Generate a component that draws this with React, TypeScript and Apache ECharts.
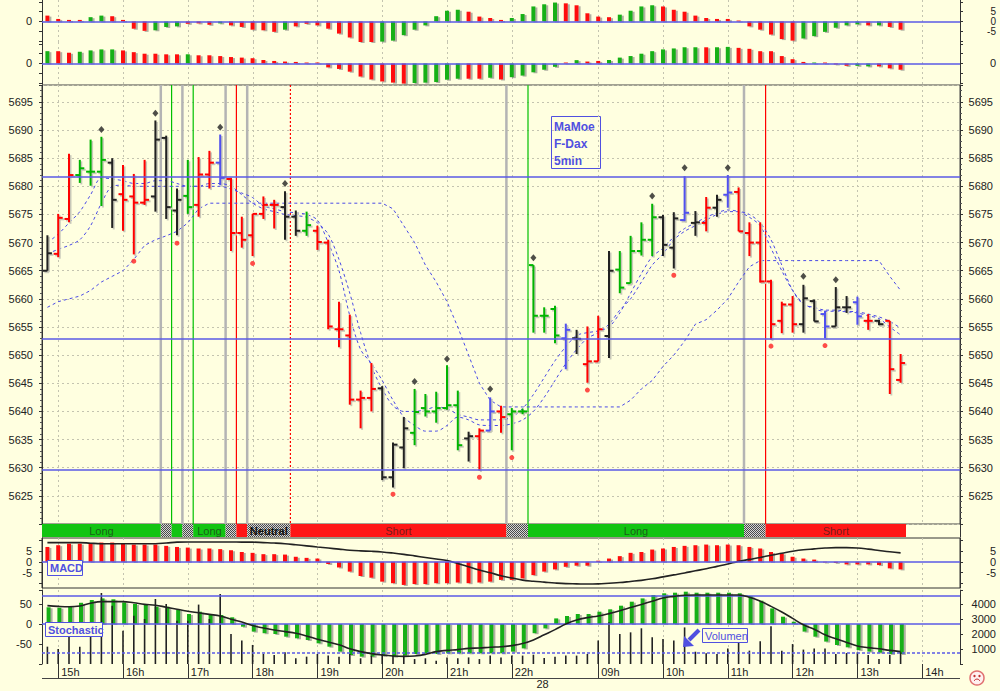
import React, { useEffect, useRef } from 'react';
import * as echarts from 'echarts';

const FONT = '"Liberation Sans", Arial, sans-serif';
const BG = '#ffffe0';
const BLUE = '#5a5ae6';

const TIMES = [
  '14:50',
  '15:00','15:10','15:20','15:30','15:40','15:50',
  '16:00','16:10','16:20','16:30','16:40','16:50',
  '17:00','17:10','17:20','17:30','17:40','17:50',
  '18:00','18:10','18:20','18:30','18:40','18:50',
  '19:00','19:10','19:20','19:30','19:40','19:50',
  '20:00','20:10','20:20','20:30','20:40','20:50',
  '21:00','21:10','21:20','21:30','21:40','21:50',
  '22:00','22:10',
  '08:00','08:10','08:20','08:30','08:40','08:50',
  '09:00','09:10','09:20','09:30','09:40','09:50',
  '10:00','10:10','10:20','10:30','10:40','10:50',
  '11:00','11:10','11:20','11:30','11:40','11:50',
  '12:00','12:10','12:20','12:30','12:40','12:50',
  '13:00','13:10','13:20','13:30','13:40','13:50',
  '14:00','14:10','14:20','14:30',
];
const TICK_TEXT = {
  '15:00': '15h', '16:00': '16h', '17:00': '17h', '18:00': '18h', '19:00': '19h',
  '20:00': '20h', '21:00': '21h', '22:00': '22h', '08:00': '\n28', '09:00': '09h',
  '10:00': '10h', '11:00': '11h', '12:00': '12h', '13:00': '13h', '14:00': '14h',
};

const OPEN = [
  5665, 5668, 5674.2, 5682, 5682.6, 5682.6, 5684.2, 5678.6, 5678.2, 5677.1,
  5678.2, 5688.6, 5675.7, 5678.3, 5676.7, 5682.1, 5684.2, 5681.3, 5671.7, 5671.3,
  5675.1, 5676.7, 5676.3, 5674.6, 5672.1, 5672.1, 5670, 5654.6, 5653.5, 5642.1,
  5642.4, 5644.1, 5628.3, 5633.6, 5636.2, 5640.6, 5640, 5640.6, 5641.1, 5635.2,
  5635.6, 5636.6, 5640, 5639.5, 5640, 5666, 5657, 5658.2, 5653, 5653,
  5648.4, 5648.9, 5653.4, 5665.2, 5662.8, 5668.5, 5670.5, 5674.5, 5669.1, 5674,
  5673.5, 5673.5, 5676.2, 5678.5, 5679, 5671.7, 5670, 5663.1, 5656.1, 5659,
  5655.5, 5659.6, 5657.3, 5655.1, 5658.5, 5659.4, 5656.1, 5656.1, 5656.1, 5645.6,
];
const HIGH = [
  5671.3, 5675.1, 5685.8, 5684.7, 5688.3, 5688.8, 5685, 5683.8, 5682.2, 5684.7,
  5691.7, 5689, 5679.6, 5684.7, 5685.2, 5686.3, 5689.2, 5681.5, 5674.6, 5675.1,
  5678.2, 5677.6, 5679.1, 5675.7, 5675.5, 5673, 5670.5, 5659.5, 5657.2, 5643.7,
  5648.6, 5644.5, 5634.5, 5639, 5644, 5643.1, 5643.5, 5648.2, 5643.7, 5636.4,
  5637, 5642.5, 5641, 5640.6, 5640.5, 5666, 5658.5, 5658.8, 5655.6, 5654.5,
  5655.1, 5657, 5668.5, 5668.5, 5671.2, 5673.6, 5676.9, 5674.9, 5675.4, 5681.8,
  5675.6, 5678.1, 5678.5, 5682, 5679.8, 5673.6, 5673.6, 5663.4, 5659.5, 5660.5,
  5662.5, 5659.9, 5657.9, 5662.1, 5660.5, 5660.4, 5657.3, 5656.3, 5656.1, 5650.2,
];
const LOW = [
  5665, 5667.4, 5673.6, 5680.6, 5680.1, 5676.5, 5672.6, 5672.1, 5667.9, 5676.7,
  5675.5, 5674.2, 5671.3, 5675.1, 5674.6, 5679.6, 5680.2, 5668.5, 5669.1, 5667.6,
  5674.2, 5672.5, 5670.5, 5671.2, 5671.2, 5668.7, 5654.6, 5651.4, 5641.2, 5637,
  5640, 5627.8, 5626.5, 5629.9, 5634, 5639.1, 5638, 5640.3, 5633.1, 5631.1,
  5629.5, 5636.6, 5636.2, 5633.1, 5639.5, 5654, 5654, 5652.1, 5647.5, 5650.2,
  5645.1, 5648.9, 5649.5, 5661, 5662.8, 5667.7, 5667.6, 5667.6, 5665.4, 5673.8,
  5671.2, 5672, 5674.6, 5676.2, 5672, 5667.6, 5662.9, 5652.8, 5653.9, 5654,
  5654, 5656, 5653, 5655.1, 5657.5, 5655.4, 5654.5, 5655.3, 5643.1, 5645.1,
];
const CLOSE = [
  5668.1, 5674.4, 5682, 5683.2, 5682.6, 5684.7, 5677.6, 5677.6, 5677.1, 5677.6,
  5688.3, 5676.3, 5677.6, 5676.3, 5682.1, 5684.2, 5681.5, 5671.7, 5670.5, 5675.1,
  5676.7, 5676.7, 5674.6, 5672.1, 5673.1, 5670.1, 5655.1, 5654.6, 5642.1, 5642.4,
  5644, 5628.3, 5634.1, 5637, 5639.9, 5640, 5640.6, 5641.1, 5634, 5635.6,
  5636.6, 5640, 5639, 5640, 5640, 5657, 5657, 5653.5, 5654.5, 5652.9,
  5648.9, 5654.6, 5665, 5662, 5668.5, 5670.5, 5674.5, 5669.6, 5674.3, 5675.3,
  5673.6, 5676.2, 5677.6, 5678.9, 5672, 5670, 5663.1, 5655.5, 5659, 5655.5,
  5660.1, 5656, 5655.1, 5658.5, 5658.5, 5656.9, 5656.1, 5655.5, 5647.5, 5648.6,
];
const BAR_COLOR = [
  'k','r','r','g','g','g','k','r','r','r',
  'k','k','k','g','r','r','b','r','r','r',
  'r','r','k','k','g','r','r','r','r','r',
  'r','k','k','k','g','g','g','g','g','k',
  'r','b','r','g','g','g','g','g','b','k',
  'r','r','k','g','g','g','g','k','k','b',
  'k','r','k','b','r','r','r','r','r','r',
  'k','k','b','k','k','b','r','k','r','r',
];

const MA_FAST = [
  5670, 5671.5, 5673.5, 5675.5, 5678.5, 5681.5, 5681.3, 5681, 5680.5, 5680.5,
  5681, 5681, 5680.5, 5680, 5680, 5680.5, 5680.5, 5680, 5678.5, 5677,
  5676, 5675.5, 5675, 5674.8, 5674.5, 5673.5, 5671.5, 5667, 5661, 5654,
  5648, 5644, 5641, 5640, 5640, 5640.3, 5640.8, 5640.5, 5639.5, 5639,
  5638.5, 5638.5, 5638.5, 5639, 5640.5, 5643, 5646, 5649, 5651.5, 5653.5,
  5654, 5654.3, 5655, 5657.5, 5661, 5664.5, 5667.5, 5669, 5671, 5672.5,
  5673.5, 5674.5, 5675.3, 5675.8, 5675.5, 5674.5, 5673, 5669, 5665, 5661.5,
  5659.2, 5658.2, 5657.8, 5657.8, 5657.7, 5657.5, 5657, 5656.5, 5655, 5653.6,
];
const MA_MID = [
  5668, 5668.8, 5669.5, 5670.5, 5673, 5677, 5680, 5680.2, 5680, 5680,
  5680, 5680, 5680, 5680, 5680, 5680, 5680, 5679.5, 5678.8, 5678,
  5676.5, 5676, 5675.5, 5675.3, 5675, 5674, 5670, 5665, 5657, 5651,
  5648.5, 5645.5, 5642, 5639, 5637.5, 5636.5, 5636.5, 5637.5, 5639, 5638.5,
  5637.6, 5637.5, 5637.5, 5637.8, 5638.5, 5640, 5642.5, 5645.5, 5648.5, 5651,
  5653, 5654, 5655.5, 5658, 5660, 5663, 5666, 5668, 5670.5, 5672,
  5673, 5674, 5675, 5675.5, 5675.5, 5675, 5673.5, 5670.5, 5666, 5661.5,
  5659, 5658.5, 5658, 5658, 5657.8, 5657.7, 5657.3, 5656.8, 5656, 5654.8,
];
const MA_SLOW = [
  5658.5, 5659.5, 5660, 5660.5, 5661.5, 5663, 5664, 5665, 5667, 5669.5,
  5670.5, 5671.2, 5672, 5673.5, 5676, 5677, 5677, 5677, 5677, 5677,
  5677, 5677, 5677, 5677, 5677, 5677, 5677, 5677, 5677, 5677,
  5677, 5677, 5676, 5673, 5670, 5666, 5663, 5659.5, 5655, 5650,
  5645, 5642, 5640.8, 5640.8, 5640.8, 5640.8, 5640.8, 5640.8, 5640.8, 5640.8,
  5640.8, 5640.8, 5640.8, 5640.8, 5642, 5644, 5645.5, 5648, 5650, 5652.5,
  5655.5, 5656.3, 5658, 5660, 5663, 5665.7, 5666.8, 5666.8, 5666.8, 5666.8,
  5666.8, 5666.8, 5666.8, 5666.8, 5666.8, 5666.8, 5666.8, 5666.8, 5664, 5661.5,
];
const LEVELS = [5681.7, 5652.9, 5629.7];

const PIVOT_HIGH_IDX = [5, 10, 16, 22, 34, 37, 41, 45, 56, 59, 63, 70, 73];
const PIVOT_HIGH_VAL = [5690.1, 5693, 5690.5, 5680.5, 5645.3, 5649.3, 5644, 5667.3, 5678.3, 5683.3, 5683.3, 5664, 5663.4];
const PIVOT_LOW_IDX = [8, 12, 19, 32, 40, 43, 50, 58, 67, 72];
const PIVOT_LOW_VAL = [5666.7, 5669.9, 5666.3, 5625.3, 5628.3, 5631.8, 5643.8, 5664.2, 5651.6, 5651.7];

// L = long, N = neutral, S = short
const SIGNAL = [
  'L','L','L','L','L','L','L','L','L','L',
  'L','N','L','N','L','L','L','N','S','N',
  'N','N','N','S','S','S','S','S','S','S',
  'S','S','S','S','S','S','S','S','S','S',
  'S','S','S','N','N','L','L','L','L','L',
  'L','L','L','L','L','L','L','L','L','L',
  'L','L','L','L','L','N','N','S','S','S',
  'S','S','S','S','S','S','S','S','S','S',
];
const DOTTED_SWITCH = [22];

const OSC1_VAL = [
  3, 1.3, 0.8, 0.8, 2.2, 3, 2.7, 0.8, -3.7, -4.8,
  -4.5, -2.8, -2.5, -1.2, -1, -1.7, -1, -2, -2.8, -4.2,
  -4.5, -5.3, -4.2, -2.5, -1.2, -2, -3.7, -6.2, -8.2, -10.8,
  -11.2, -10.3, -9.8, -7, -4.2, -2, 2.7, 5.5, 6, 5,
  2.5, 1.8, 0.8, 1.8, 3.8, 7.7, 8.8, 9.7, 9.3, 8.3,
  4.2, 2.5, 2.2, 3.5, 5.5, 7.7, 8.3, 7.7, 6, 5,
  3, 1.8, 1.3, 1.3, 0.5, -2.5, -4.2, -6.7, -9, -9.8,
  -8.7, -7.5, -5.3, -3.2, -2, -1.5, -2, -2, -2.8, -4.2,
];
const OSC1_COL = [
  'r','r','r','r','g','g','r','r','r','r',
  'g','g','g','r','r','r','g','r','r','r',
  'r','r','g','r','r','r','r','r','r','r',
  'r','g','g','g','g','g','g','g','g','r',
  'r','r','r','g','g','g','g','g','r','r',
  'r','r','r','g','g','g','g','r','r','r',
  'r','r','r','r','r','r','r','r','r','r',
  'g','g','g','g','g','g','r','g','r','r',
];
const OSC2_VAL = [
  6.3, 6.3, 5.5, 6, 6.7, 7.2, 7.2, 6.7, 5.8, 5,
  5, 4.7, 4.7, 4.7, 4.2, 4.2, 3.8, 3.3, 3, 2.7,
  1.8, 1.3, 1, 0.8, 0.5, 0.5, -2, -2.8, -4.2, -6.7,
  -8.2, -9.2, -9.8, -10.3, -10, -9.8, -9.5, -8.3, -7.8, -7.8,
  -7.8, -7.3, -8.2, -7, -6.2, -4.5, -3.2, -1.7, 0.5, 1.7,
  1, 1.3, 1.8, 3, 3.8, 5, 6.3, 7.2, 7.7, 8.3,
  8.3, 8.3, 8.3, 8.5, 8, 7.5, 6.3, 6.3, 3.8, 2.2,
  0.8, 0.5, 0.5, -0.5, -1.2, -1.2, -1.5, -1.5, -2.5, -3.2,
];
const OSC2_COL = [
  'g','r','r','g','g','g','g','r','r','r',
  'r','r','r','g','r','r','r','r','r','r',
  'r','r','r','r','r','r','r','r','r','r',
  'r','r','r','r','g','g','g','g','g','r',
  'r','g','r','g','g','g','g','g','r','g',
  'r','r','g','g','g','g','g','g','g','g',
  'g','r','g','g','r','r','r','r','r','r',
  'r','g','r','r','r','g','g','r','r','r',
];

const MACD_HIST = [
  6.8, 7.6, 8.3, 8.3, 8.6, 8.8, 8.8, 8.3, 7.9, 7.9,
  7.9, 7.3, 6.8, 6.5, 6.1, 6.1, 5.8, 5.3, 4.5, 4.1,
  3.5, 3.5, 3.3, 2.3, 1.8, 1.5, -1, -2.6, -4.5, -6.5,
  -7.3, -9.1, -9.8, -10.6, -10.2, -10.2, -9.8, -9.8, -9.5, -9.8,
  -9.5, -9.1, -8.3, -8.3, -7.6, -6.1, -4.5, -3.5, -2.3, -1.8,
  -1.8, 0.5, 1.5, 2.6, 4.1, 4.5, 5.6, 6.1, 6.8, 7.3,
  7.6, 7.9, 7.6, 7.9, 7.6, 6.8, 6.1, 4.5, 3.8, 2.3,
  1.5, 1, -0.3, -0.5, -1.2, -1.2, -1.2, -1.5, -3, -3.5,
];
const MACD_LINE = [
  8.8, 8.8, 8.8, 8.8, 8.5, 8.3, 8.3, 8.3, 8.3, 8.3,
  8.3, 8.6, 9.0, 9.1, 9.1, 9.1, 9.1, 9.1, 9.0, 9.0,
  8.8, 8.6, 8.3, 7.8, 7.3, 6.8, 6.3, 5.8, 5.3, 5.0,
  4.8, 4.5, 4.0, 3.4, 2.7, 2.0, 1.3, 0.6, -0.8, -2.3,
  -3.8, -5.0, -6.4, -7.4, -8.4, -8.9, -9.3, -9.7, -10.0, -10.1,
  -10.2, -10.1, -9.8, -9.5, -9.0, -8.5, -7.8, -6.9, -6.0, -5.1,
  -4.1, -3.2, -2.1, -1.0, 0.2, 1.1, 2.0, 3.0, 3.9, 4.8,
  5.5, 5.9, 6.3, 6.5, 6.5, 6.3, 5.8, 5.2, 4.6, 4.1,
];

const STOCH_HIST = [
  41.7, 40.8, 45, 53, 60, 64, 61.7, 54, 50, 47.5,
  43.3, 43.3, 35, 25, 30.8, 25, 22.5, 16.7, -6.7, -19,
  -23, -25, -31.7, -35.8, -40, -48.3, -56.7, -69, -77.5, -81.7,
  -81.7, -80, -81.7, -79, -75, -73.3, -75, -73.3, -73.3, -73.3,
  -73.3, -73.3, -73.3, -69, -61, -23, -11, 14, 20, 25,
  25, 30.8, 36.7, 45.8, 55.8, 64, 72.5, 76.7, 78.3, 80.8,
  78.3, 78.3, 78.3, 78.3, 76.7, 70, 58.3, 39, 18.3, 5.8,
  -19, -31.7, -44, -52.5, -58.3, -65, -69, -71.7, -75, -75,
];
const STOCH_LINE = [
  46, 44, 43, 45, 52, 56, 56, 56, 53, 49,
  47, 42, 37, 32, 28, 24, 20, 12, 5, -4,
  -10, -15, -19, -23, -30, -38, -45, -52, -62, -69,
  -74, -77.5, -80, -81, -80, -76, -69, -66, -64, -61,
  -60, -58, -57, -54, -49, -40, -27, -14, 0, 10,
  16, 20, 26, 33, 41, 49, 57, 65, 69, 72,
  72.5, 72.5, 72.5, 72.5, 72.5, 67, 57, 44, 30, 14,
  -2, -13, -27, -37, -46, -55, -59, -62, -66, -69,
];
const STOCH_LEVELS = [71, 0, -71];
const VOLUME = [
  1156, 1000, 1930, 1156, 2110, 4733, 3890, 2220, 3220, 3000,
  4333, 4000, 2890, 2890, 3960, 3000, 4670, 2000, 1560, 1270,
  670, 600, 780, 380, 490, 670, 560, 490, 670, 380,
  560, 670, 560, 560, 330, 380, 220, 440, 380, 440,
  330, 560, 440, 560, 560, 620, 400, 490, 560, 560,
  670, 1560, 2780, 2000, 2110, 2380, 1780, 1670, 1560, 2440,
  820, 710, 670, 1040, 1490, 890, 1510, 2510, 890, 1330,
  960, 1040, 1040, 670, 730, 780, 600, 330, 620, 780,
];

const PRICE_COLORS = { g: '#00b400', r: '#ff0000', k: '#222222', b: '#5050ee' };
const HIST_COLORS = { g: '#12b012', r: '#ff1010' };

const labelStyle = { color: '#222', fontSize: 11, fontFamily: FONT };
const axisLineStyle = { show: true, onZero: false, lineStyle: { color: '#333', width: 1 } };

function yAxisDef(gridIndex, position, opts) {
  const base = {
    type: 'value',
    gridIndex,
    position,
    axisLine: axisLineStyle,
    axisTick: { show: true, length: 3, lineStyle: { color: '#333' } },
    splitLine: { show: false },
    axisLabel: Object.assign({}, labelStyle, { align: 'right', hideOverlap: false }),
  };
  const out = Object.assign({}, base, opts || {});
  if (opts && opts.axisLabel) out.axisLabel = Object.assign({}, base.axisLabel, opts.axisLabel);
  if (opts && opts.axisTick) out.axisTick = Object.assign({}, base.axisTick, opts.axisTick);
  return out;
}

const fmtList = (list, offset) => (v) => {
  for (let k = 0; k < list.length; k++) if (Math.abs(v - offset - list[k]) < 1e-6) return String(list[k]);
  return '';
};

export default function App() {
  const ref = useRef(null);
  useEffect(() => {
    const chart = echarts.init(ref.current, null, { renderer: 'svg' });

    let neutralFill: any = '#8f8f8f';
    try {
      const cv = document.createElement('canvas');
      cv.width = 2; cv.height = 2;
      const ctx = cv.getContext('2d');
      if (ctx) {
        ctx.fillStyle = '#d6d6d6'; ctx.fillRect(0, 0, 2, 2);
        ctx.fillStyle = '#4a4a4a'; ctx.fillRect(0, 0, 1, 1); ctx.fillRect(1, 1, 1, 1);
        neutralFill = { image: cv, repeat: 'repeat' };
      }
    } catch (e) { /* keep grey */ }

    const HOUR_IDX = TIMES.map((t, i) => (t.endsWith(':00') && t !== '08:00' ? i : -1)).filter((i) => i >= 0);

    const segments = [];
    let s0 = 0;
    for (let i = 1; i <= SIGNAL.length; i++) {
      if (i === SIGNAL.length || SIGNAL[i] !== SIGNAL[s0]) {
        segments.push([s0, i - 1, SIGNAL[s0] === 'L' ? 0 : SIGNAL[s0] === 'N' ? 1 : 2]);
        s0 = i;
      }
    }
    const switches = [];
    for (let i = 1; i < SIGNAL.length; i++) {
      if (SIGNAL[i] !== SIGNAL[i - 1]) {
        const k = SIGNAL[i] === 'L' ? 1 : SIGNAL[i] === 'N' ? 0 : 2;
        switches.push([i - 1, k, DOTTED_SWITCH.indexOf(i - 1) >= 0 ? 1 : 0]);
      }
    }

    const gbase = { left: 42, right: 40, containLabel: false, outerBoundsMode: 'none' };
    const grids = [
      Object.assign({}, gbase, { top: 0, height: 42 }),
      Object.assign({}, gbase, { top: 42, height: 42 }),
      Object.assign({}, gbase, { top: 85, height: 439, show: true, borderColor: '#444', borderWidth: 1 }),
      Object.assign({}, gbase, { top: 524, height: 13 }),
      Object.assign({}, gbase, { top: 538, height: 50, show: true, borderColor: '#333', borderWidth: 1 }),
      Object.assign({}, gbase, { top: 590, height: 74 }),
    ];

    const xAxes = grids.map((g, gi) => {
      if (gi < 5) return { type: 'category', gridIndex: gi, data: TIMES, show: false, axisLine: { onZero: false } };
      return {
        type: 'category', gridIndex: gi, data: TIMES, position: 'bottom',
        axisLine: { show: false, onZero: false },
        axisTick: {
          show: true, alignWithLabel: true, length: 14,
          interval: (i, v) => !!TICK_TEXT[v] && v !== '08:00',
          lineStyle: { color: '#333' },
        },
        axisLabel: Object.assign({}, labelStyle, {
          interval: (i, v) => !!TICK_TEXT[v],
          formatter: (v) => TICK_TEXT[v] || '',
          align: 'left', padding: [0, 0, 0, 3], margin: 2, verticalAlign: 'top', lineHeight: 12,
        }),
      };
    });

    const priceFmt = (v) => (v > 5620 && v < 5698 && v % 5 === 0 ? String(v) : '');
    const topScale = { min: -10.5, max: 11 };
    const topTicks = { show: true, customValues: [-10, -5, 0, 5, 10] };
    // label-only helper scale: same span, shifted by 100 so that the zero line reads "0"
    const OFF = 100;
    const helperScale = { min: -10.5 + OFF, max: 11 + OFF, interval: 0.5 };
    const smallLab = { fontSize: 10, lineHeight: 9 };
    const yAxes = [
      yAxisDef(0, 'left', Object.assign({}, topScale, { axisLabel: { show: false }, axisTick: topTicks })),
      yAxisDef(0, 'right', Object.assign({}, topScale, { axisLabel: { show: false }, axisTick: topTicks })),
      yAxisDef(1, 'left', Object.assign({}, topScale, { axisLabel: { show: false }, axisTick: topTicks })),
      yAxisDef(1, 'right', Object.assign({}, topScale, { axisLabel: { show: false }, axisTick: topTicks })),
      yAxisDef(2, 'left', {
        min: 5620, max: 5698, interval: 5,
        axisLabel: { formatter: priceFmt, margin: 9 },
        minorTick: { show: true, splitNumber: 5, length: 2, lineStyle: { color: '#555' } },
        splitLine: { show: true, lineStyle: { color: '#c4c4b0', type: [2, 3], width: 1 } },
      }),
      yAxisDef(2, 'right', {
        min: 5620, max: 5698, interval: 5,
        axisLabel: { formatter: priceFmt, margin: 33 },
        minorTick: { show: true, splitNumber: 5, length: 2, lineStyle: { color: '#555' } },
      }),
      yAxisDef(3, 'left', { min: 0, max: 1, axisLabel: { show: false }, axisTick: { show: false } }),
      yAxisDef(3, 'right', { min: 0, max: 1, axisLabel: { show: false }, axisTick: { show: false } }),
      yAxisDef(4, 'left', { min: -12, max: 10.9, axisLabel: { customValues: [5, 0, -5], margin: 10 }, axisTick: { customValues: [-10, -5, 0, 5, 10] } }),
      yAxisDef(4, 'right', { min: -12, max: 10.9, axisLabel: { customValues: [5, 0, -5], margin: 36 }, axisTick: { customValues: [-10, -5, 0, 5, 10] } }),
      yAxisDef(5, 'left', {
        min: -100, max: 85, interval: 50,
        axisLabel: { formatter: (v) => (v === 50 || v === 0 || v === -50 ? String(v) : ''), margin: 10 },
      }),
      yAxisDef(5, 'right', {
        min: 0, max: 4933, interval: 1000,
        axisLabel: { formatter: (v) => (v >= 1000 && v <= 4000 && v % 1000 === 0 ? String(v) : ''), margin: 36 },
      }),
      // helper label axes (12..15)
      yAxisDef(0, 'left', Object.assign({}, helperScale, { axisLine: { show: false }, axisTick: { show: false }, axisLabel: { formatter: fmtList([0], OFF), margin: 10 } })),
      yAxisDef(0, 'right', Object.assign({}, helperScale, { axisLine: { show: false }, axisTick: { show: false }, axisLabel: Object.assign({ formatter: fmtList([5, 0, -5], OFF), margin: 36 }, smallLab) })),
      yAxisDef(1, 'left', Object.assign({}, helperScale, { axisLine: { show: false }, axisTick: { show: false }, axisLabel: { formatter: fmtList([0], OFF), margin: 10 } })),
      yAxisDef(1, 'right', Object.assign({}, helperScale, { axisLine: { show: false }, axisTick: { show: false }, axisLabel: { formatter: fmtList([0], OFF), margin: 36 } })),
    ];

    const hourLines = (gi) => ({
      type: 'custom', coordinateSystem: 'cartesian2d', xAxisIndex: gi, yAxisIndex: gi * 2,
      silent: true, z: 1, data: HOUR_IDX.map((i) => [i, 0]),
      renderItem: (params, api) => {
        const cs = params.coordSys;
        const x = Math.round(api.coord([api.value(0), 0])[0]) + 0.5;
        return { type: 'line', shape: { x1: x, y1: cs.y, x2: x, y2: cs.y + cs.height }, style: { stroke: '#c4c4b0', lineWidth: 1, lineDash: [2, 3] } };
      },
    });

    const zeroMark = () => ({
      silent: true, symbol: ['none', 'none'], label: { show: false },
      lineStyle: { color: BLUE, width: 1.5, type: 'solid' },
      data: [{ yAxis: 0 }],
    });

    const histShadow = { shadowColor: 'rgba(110,110,110,0.55)', shadowOffsetX: 2, shadowOffsetY: 1, shadowBlur: 0 };

    const series = [
      hourLines(0), hourLines(1), hourLines(2), hourLines(4), hourLines(5),
      {
        type: 'bar', xAxisIndex: 0, yAxisIndex: 0, barWidth: 4, z: 3,
        data: OSC1_VAL.map((v, i) => ({ value: v, itemStyle: Object.assign({ color: HIST_COLORS[OSC1_COL[i]] }, histShadow) })),
        markLine: zeroMark(),
      },
      {
        type: 'bar', xAxisIndex: 1, yAxisIndex: 2, barWidth: 4, z: 3,
        data: OSC2_VAL.map((v, i) => ({ value: v, itemStyle: Object.assign({ color: HIST_COLORS[OSC2_COL[i]] }, histShadow) })),
        markLine: zeroMark(),
      },
      {
        type: 'custom', coordinateSystem: 'cartesian2d', xAxisIndex: 2, yAxisIndex: 4, silent: true, z: 2,
        data: switches,
        renderItem: (params, api) => {
          const cs = params.coordSys;
          const bw = api.size([1, 0])[0];
          const x = api.coord([api.value(0), 0])[0] + bw / 2;
          const k = api.value(1);
          const dotted = api.value(2) === 1;
          const stroke = k === 0 ? '#b4b4b4' : k === 1 ? '#00c000' : '#ff0000';
          const lw = k === 0 ? 2.5 : 1.2;
          return { type: 'line', shape: { x1: x, y1: cs.y, x2: x, y2: cs.y + cs.height }, style: { stroke, lineWidth: lw, lineDash: dotted ? [2, 2] : null } };
        },
      },
      {
        type: 'line', xAxisIndex: 2, yAxisIndex: 4, data: MA_SLOW, symbol: 'none', z: 3, silent: true,
        lineStyle: { color: '#4a4ae6', width: 1, type: [3, 3] },
        markLine: {
          silent: true, symbol: ['none', 'none'], label: { show: false },
          lineStyle: { color: BLUE, width: 1.5, type: 'solid' },
          data: LEVELS.map((v) => ({ yAxis: v })),
        },
      },
      { type: 'line', xAxisIndex: 2, yAxisIndex: 4, data: MA_MID, symbol: 'none', z: 3, silent: true, smooth: 0.3, lineStyle: { color: '#4a4ae6', width: 1, type: [3, 3] } },
      { type: 'line', xAxisIndex: 2, yAxisIndex: 4, data: MA_FAST, symbol: 'none', z: 3, silent: true, smooth: 0.3, lineStyle: { color: '#4a4ae6', width: 1, type: [3, 3] } },
      {
        type: 'custom', coordinateSystem: 'cartesian2d', xAxisIndex: 2, yAxisIndex: 4, z: 4,
        data: OPEN.map((o, i) => [i, o, HIGH[i], LOW[i], CLOSE[i], 'grkb'.indexOf(BAR_COLOR[i])]),
        renderItem: (params, api) => {
          const i = api.value(0);
          const pO = api.coord([i, api.value(1)]);
          const pH = api.coord([i, api.value(2)]);
          const pL = api.coord([i, api.value(3)]);
          const pC = api.coord([i, api.value(4)]);
          const color = PRICE_COLORS['grkb'[api.value(5)]];
          const w = 4.5;
          const mk = (dx, dy, stroke) => [
            { type: 'line', shape: { x1: pH[0] + dx, y1: pH[1] + dy, x2: pL[0] + dx, y2: pL[1] + dy }, style: { stroke, lineWidth: 2 } },
            { type: 'line', shape: { x1: pO[0] - w + dx, y1: pO[1] + dy, x2: pO[0] + dx, y2: pO[1] + dy }, style: { stroke, lineWidth: 2 } },
            { type: 'line', shape: { x1: pC[0] + dx, y1: pC[1] + dy, x2: pC[0] + w + dx, y2: pC[1] + dy }, style: { stroke, lineWidth: 2 } },
          ];
          return { type: 'group', children: mk(1.5, 1.5, '#c8c8b8').concat(mk(0, 0, color)) };
        },
      },
      {
        type: 'scatter', xAxisIndex: 2, yAxisIndex: 4, z: 5, symbol: 'diamond', symbolSize: [6, 7],
        itemStyle: { color: '#222' }, data: PIVOT_HIGH_IDX.map((i, k) => [i, PIVOT_HIGH_VAL[k]]),
      },
      {
        type: 'scatter', xAxisIndex: 2, yAxisIndex: 4, z: 5, symbol: 'circle', symbolSize: 5,
        itemStyle: { color: '#ff2020' }, data: PIVOT_LOW_IDX.map((i, k) => [i, PIVOT_LOW_VAL[k]]),
      },
      {
        type: 'custom', coordinateSystem: 'cartesian2d', xAxisIndex: 3, yAxisIndex: 6, z: 3, silent: true,
        data: segments,
        renderItem: (params, api) => {
          const cs = params.coordSys;
          const s = api.value(0), e = api.value(1), k = api.value(2);
          const bw = api.size([1, 0])[0];
          const x0 = api.coord([s, 0])[0] - bw / 2;
          const x1 = api.coord([e, 0])[0] + bw / 2;
          const fill = k === 0 ? '#12c412' : k === 2 ? '#ff1616' : neutralFill;
          const children: any[] = [{ type: 'rect', shape: { x: x0, y: cs.y, width: x1 - x0, height: cs.height }, style: { fill } }];
          if (e - s >= 2) {
            children.push({
              type: 'text', x: (x0 + x1) / 2, y: cs.y + cs.height / 2 + 0.5,
              style: {
                text: ['Long', 'Neutral', 'Short'][k], align: 'center', verticalAlign: 'middle',
                fill: k === 1 ? '#111' : 'rgba(30,30,30,0.65)', fontSize: 11, fontFamily: FONT,
                fontWeight: k === 1 ? 'bold' : 'normal',
              },
            });
          }
          return { type: 'group', children };
        },
      },
      {
        type: 'bar', xAxisIndex: 4, yAxisIndex: 8, barWidth: 4, z: 3,
        data: MACD_HIST, itemStyle: Object.assign({ color: '#ff1010' }, histShadow),
        markLine: zeroMark(),
      },
      {
        type: 'line', xAxisIndex: 4, yAxisIndex: 8, data: MACD_LINE, symbol: 'none', smooth: 0.4, z: 4, silent: true,
        lineStyle: { color: '#222', width: 1.6 },
      },
      {
        type: 'bar', xAxisIndex: 5, yAxisIndex: 10, barWidth: 4, barGap: '-100%', z: 3,
        data: STOCH_HIST, itemStyle: Object.assign({ color: '#14b014' }, histShadow),
        markLine: {
          silent: true, symbol: ['none', 'none'], label: { show: false },
          lineStyle: { color: BLUE, width: 1.5, type: 'solid' },
          data: STOCH_LEVELS.map((v, k) => (k === 2 ? { yAxis: v, lineStyle: { type: [3, 2], color: BLUE, width: 1.5 } } : { yAxis: v })),
        },
      },
      {
        type: 'bar', xAxisIndex: 5, yAxisIndex: 11, barWidth: 1.6, barGap: '-100%', z: 4,
        data: VOLUME, itemStyle: { color: '#222' },
      },
      {
        type: 'line', xAxisIndex: 5, yAxisIndex: 10, data: STOCH_LINE, symbol: 'none', smooth: 0.4, z: 5, silent: true,
        lineStyle: { color: '#222', width: 1.6 },
      },
    ];

    const BOXC = '#5050e0';
    const graphic = [
      { type: 'line', silent: true, shape: { x1: 42, y1: 678.5, x2: 960, y2: 678.5 }, style: { stroke: '#444', lineWidth: 1 } },
      { type: 'rect', silent: true, shape: { x: 551.5, y: 116.5, width: 49, height: 52 }, style: { fill: 'none', stroke: BOXC, lineWidth: 1 } },
      { type: 'text', silent: true, x: 554, y: 118, style: { text: 'MaMoe\nF-Dax\n5min', fill: BOXC, fontSize: 12, fontWeight: 'bold', fontFamily: FONT, lineHeight: 17 } },
      { type: 'rect', silent: true, z: 10, shape: { x: 47.5, y: 560.5, width: 35, height: 15 }, style: { fill: BG, stroke: BOXC, lineWidth: 1 } },
      { type: 'text', silent: true, z: 11, x: 50, y: 562, style: { text: 'MACD', fill: BOXC, fontSize: 11, fontWeight: 'bold', fontFamily: FONT } },
      { type: 'rect', silent: true, z: 10, shape: { x: 45.5, y: 622.5, width: 57, height: 14 }, style: { fill: BG, stroke: BOXC, lineWidth: 1 } },
      { type: 'text', silent: true, z: 11, x: 48, y: 624, style: { text: 'Stochastic', fill: BOXC, fontSize: 11, fontWeight: 'bold', fontFamily: FONT } },
      { type: 'rect', silent: true, z: 10, shape: { x: 702.5, y: 628.5, width: 45, height: 14 }, style: { fill: BG, stroke: BOXC, lineWidth: 1 } },
      { type: 'text', silent: true, z: 11, x: 705, y: 630, style: { text: 'Volumen', fill: BOXC, fontSize: 11, fontFamily: FONT } },
      { type: 'line', silent: true, z: 10, shape: { x1: 699, y1: 630, x2: 689, y2: 640 }, style: { stroke: BOXC, lineWidth: 4 } },
      { type: 'polygon', silent: true, z: 10, shape: { points: [[683, 647], [684, 636], [694, 646]] }, style: { fill: BOXC } },
      { type: 'circle', silent: true, shape: { cx: 977, cy: 678, r: 7 }, style: { fill: '#fff0f0', stroke: '#e07070', lineWidth: 1.5 } },
      { type: 'circle', silent: true, shape: { cx: 974.5, cy: 676, r: 1.2 }, style: { fill: '#c03030' } },
      { type: 'circle', silent: true, shape: { cx: 979.5, cy: 676, r: 1.2 }, style: { fill: '#c03030' } },
      { type: 'arc', silent: true, shape: { cx: 977, cy: 682, r: 3, startAngle: Math.PI + 0.4, endAngle: 2 * Math.PI - 0.4 }, style: { stroke: '#c03030', lineWidth: 1, fill: 'none' } },
    ];

    chart.setOption({
      animation: false,
      backgroundColor: BG,
      grid: grids,
      xAxis: xAxes,
      yAxis: yAxes,
      series,
      graphic,
    });
    return () => chart.dispose();
  }, []);
  return <div ref={ref} style={{ position: 'fixed', left: 0, top: 0, width: 1000, height: 691, background: BG }} />;
}
